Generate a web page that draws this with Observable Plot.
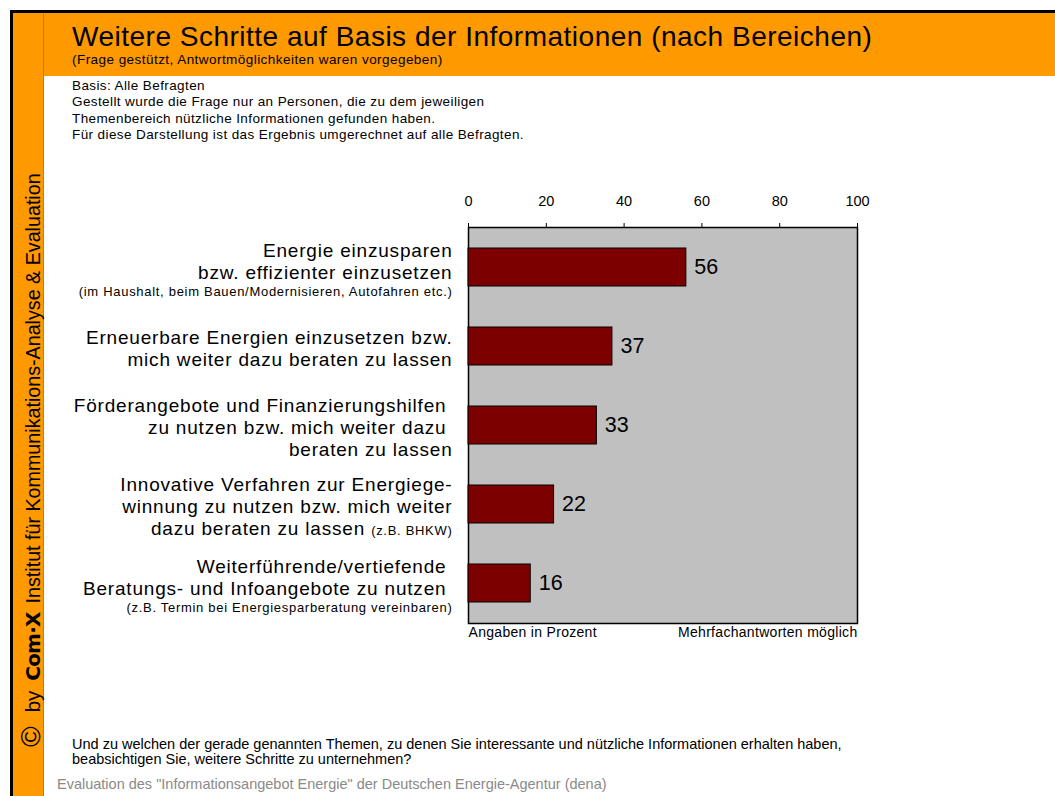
<!DOCTYPE html>
<html><head><meta charset="utf-8">
<script src="https://cdn.jsdelivr.net/npm/d3@7"></script>
<script src="https://cdn.jsdelivr.net/npm/@observablehq/plot@0.6"></script>
<style>
body{margin:0;background:#fff;font-family:"Liberation Sans",Arial,sans-serif;color:#000;}
#page{position:relative;width:1055px;height:796px;overflow:hidden;background:#fff;}
.abs{position:absolute;white-space:nowrap;}
#chart{position:absolute;left:0;top:180px;}
#side{position:absolute;left:20px;top:747px;transform:rotate(-90deg);transform-origin:0 0;height:22px;line-height:22px;font-size:19.7px;white-space:nowrap;}
#side span{display:inline-block;vertical-align:baseline;}
#side .logo{font-weight:bold;font-size:20px;letter-spacing:-0.8px;font-family:"DejaVu Sans",sans-serif;margin-left:10px;}
#side .copy{font-size:28px;}
#side .by{margin-left:14px;font-size:20.5px;}
#side .inst{margin-left:9px;}
.narrow{font-family:"Liberation Sans Narrow","Liberation Sans",Arial,sans-serif;}
</style></head><body>
<div id="page">
  <div class="abs" style="left:10px;top:10px;width:1045px;height:3px;background:#000"></div>
  <div class="abs" style="left:10px;top:10px;width:3px;height:786px;background:#000"></div>
  <div class="abs" style="left:13px;top:13px;width:1042px;height:63px;background:#ff9900"></div>
  <div class="abs" style="left:13px;top:13px;width:30px;height:783px;background:#ff9900;border-right:1px solid #c27a1a"></div>
  <div class="abs" id="title" style="left:72px;top:21px;font-size:28px;line-height:31px;letter-spacing:0.5px;"></div>
  <div class="abs" id="subtitle" style="left:72px;top:53px;font-size:13.5px;line-height:14px;letter-spacing:0.45px;"></div>
  <div class="abs" id="basis" style="left:72px;top:78px;font-size:13.5px;line-height:16.3px;letter-spacing:0.4px;"></div>
  <div class="abs narrow" id="question" style="left:72px;top:737px;font-size:14.5px;line-height:15px;"></div>
  <div class="abs narrow" id="footer" style="left:57px;top:776px;font-size:14.5px;line-height:16px;color:#8a8a8a;"></div>
  <div id="side"><span class="copy">©</span><span class="by">by</span><span class="logo">Com·X</span><span class="inst">Institut für Kommunikations-Analyse &amp; Evaluation</span></div>
  <div id="chart"></div>
</div>
<script>
const titleText = "Weitere Schritte auf Basis der Informationen (nach Bereichen)";
const subtitleText = "(Frage gestützt, Antwortmöglichkeiten waren vorgegeben)";
const basisLines = [
  "Basis: Alle Befragten",
  "Gestellt wurde die Frage nur an Personen, die zu dem jeweiligen",
  "Themenbereich nützliche Informationen gefunden haben.",
  "Für diese Darstellung ist das Ergebnis umgerechnet auf alle Befragten."
];
const questionLines = [
  "Und zu welchen der gerade genannten Themen, zu denen Sie interessante und nützliche Informationen erhalten haben,",
  "beabsichtigen Sie, weitere Schritte zu unternehmen?"
];
const footerText = "Evaluation des \"Informationsangebot Energie\" der Deutschen Energie-Agentur (dena)";

const categories = ["Energie sparen", "Erneuerbare Energien", "Förderangebote", "Innovative Verfahren", "Beratungsangebote"];
const values = [56, 37, 33, 22, 16];
const categoryLabels = [
  "Energie einzusparen\nbzw. effizienter einzusetzen\n{(im Haushalt, beim Bauen/Modernisieren, Autofahren etc.)}",
  "Erneuerbare Energien einzusetzen bzw.\nmich weiter dazu beraten zu lassen",
  "Förderangebote und Finanzierungshilfen \nzu nutzen bzw. mich weiter dazu \nberaten zu lassen",
  "Innovative Verfahren zur Energiege-\nwinnung zu nutzen bzw. mich weiter\ndazu beraten zu lassen {(z.B. BHKW)}",
  "Weiterführende/vertiefende \nBeratungs- und Infoangebote zu nutzen \n{(z.B. Termin bei Energiesparberatung vereinbaren)}"
];
const xTicks = [0, 20, 40, 60, 80, 100];
const noteLeft = "Angaben in Prozent";
const noteRight = "Mehrfachantworten möglich";

document.getElementById("title").textContent = titleText;
document.getElementById("subtitle").textContent = subtitleText;
document.getElementById("basis").innerHTML = basisLines.map(s => s.replace(/&/g,"&amp;").replace(/</g,"&lt;")).join("<br>");
document.getElementById("question").innerHTML = questionLines.join("<br>");
document.getElementById("footer").textContent = footerText;

const data = categories.map((c, i) => ({category: c, value: values[i], label: categoryLabels[i]}));

const plot = Plot.plot({
  width: 1055,
  height: 470,
  marginTop: 47,
  marginBottom: 27,
  marginLeft: 468,
  marginRight: 198,
  style: {fontFamily: "'Liberation Sans', Arial, sans-serif", fontSize: "14.5px", color: "#000", background: "transparent", overflow: "visible"},
  x: {domain: [0, 100], label: null},
  y: {domain: categories, paddingInner: 0.52, paddingOuter: 0.26, axis: null},
  marks: [
    Plot.frame({fill: "#c0c0c0", stroke: "#000", strokeWidth: 1.5}),
    Plot.text(data, {x: 0, y: "category", text: "label", textAnchor: "end", dx: -16, fontSize: 19}),
    Plot.barX(data, {x: "value", y: "category", fill: "#7d0000", stroke: "#000", strokeWidth: 1}),
    Plot.text(data, {x: "value", y: "category", text: d => String(d.value), textAnchor: "start", dx: 8, fontSize: 21.5}),
    Plot.axisX({anchor: "top", ticks: xTicks, tickSize: 5, tickPadding: 17, fontSize: 14.5, stroke: "#000", label: null}),
    Plot.text([noteLeft], {frameAnchor: "bottom-left", textAnchor: "start", lineAnchor: "top", dy: 4, fontSize: 14}),
    Plot.text([noteRight], {frameAnchor: "bottom-right", textAnchor: "end", lineAnchor: "top", dy: 4, fontSize: 14})
  ]
});
document.getElementById("chart").appendChild(plot);

// letter spacing for the bottom notes
const textGroups = plot.querySelectorAll('g[aria-label="text"]');
[textGroups[2], textGroups[3]].forEach(g => g && (g.style.letterSpacing = "0.3px"));

// Rebuild category labels as multi-size lines
const labelGroup = textGroups[0];
labelGroup.style.letterSpacing = "0.8px";
const NS = "http://www.w3.org/2000/svg";
labelGroup.querySelectorAll("text").forEach((t, i) => {
  const raw = categoryLabels[i];
  const lines = raw.split("\n").map(line => {
    const segs = [];
    line.replace(/([^{]*)(?:\{([^}]*)\})?/g, (m, a, b) => { if (a) segs.push({text: a, small: false}); if (b) segs.push({text: b, small: true}); return m; });
    return {segs, smallOnly: segs.every(s => s.small)};
  });
  const bases = [0];
  for (let k = 1; k < lines.length; k++) bases.push(bases[k-1] + (lines[k].smallOnly ? 17 : 22));
  const capTop = -13.5;
  const last = bases[bases.length - 1];
  const first = -(last - capTop) / 2 - capTop + 2;
  const xAttr = t.getAttribute("x") || 0;
  t.removeAttribute("dy");
  while (t.firstChild) t.removeChild(t.firstChild);
  lines.forEach((ln, k) => {
    const ts = document.createElementNS(NS, "tspan");
    ts.setAttribute("x", xAttr);
    ts.setAttribute("dy", k === 0 ? first : bases[k] - bases[k-1]);
    ts.style.whiteSpace = "pre";
    ln.segs.forEach(s => {
      if (s.small) {
        const sm = document.createElementNS(NS, "tspan");
        sm.setAttribute("font-size", 13);
        sm.style.letterSpacing = "0.7px";
        sm.textContent = s.text;
        ts.appendChild(sm);
      } else {
        ts.appendChild(document.createTextNode(s.text));
      }
    });
    t.appendChild(ts);
  });
});
</script>
</body></html>
